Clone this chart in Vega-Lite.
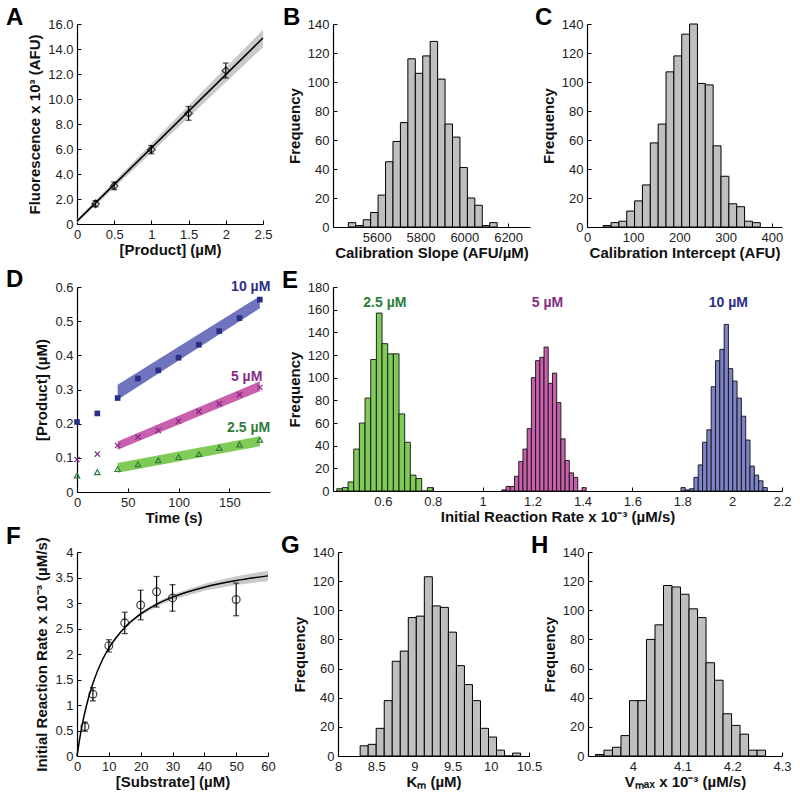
{
  "$schema": "https://vega.github.io/schema/vega-lite/v6.json",
  "padding": {"left": 6, "top": 6, "right": 5, "bottom": 5},
  "config": {
    "font": "Liberation Sans",
    "view": {"stroke": null},
    "axis": {"domainColor": "#000", "domainWidth": 1.2, "grid": false, "ticks": true, "tickSize": -4, "tickColor": "#000", "tickWidth": 1, "labelFontSize": 13, "labelColor": "#222", "labelPadding": 8, "labelFlush": false, "labelOverlap": false, "titleFontSize": 15, "titleFontWeight": "bold", "titleColor": "#111"},
    "axisY": {"titlePadding": 5},
    "axisX": {"titlePadding": 1},
    "title": {"fontSize": 24, "fontWeight": "bold", "anchor": "start", "frame": "group", "color": "#000", "offset": 0, "dy": 16}
  },
  "datasets": {
    "dpts": [
      {"s": "10", "t": 0, "y": 0.205}, {"s": "10", "t": 20, "y": 0.23}, {"s": "10", "t": 40, "y": 0.275}, {"s": "10", "t": 60, "y": 0.332}, {"s": "10", "t": 80, "y": 0.356}, {"s": "10", "t": 100, "y": 0.393}, {"s": "10", "t": 120, "y": 0.431}, {"s": "10", "t": 140, "y": 0.471}, {"s": "10", "t": 160, "y": 0.509}, {"s": "10", "t": 180, "y": 0.563},
      {"s": "5", "t": 0, "y": 0.095}, {"s": "5", "t": 20, "y": 0.111}, {"s": "5", "t": 40, "y": 0.136}, {"s": "5", "t": 60, "y": 0.161}, {"s": "5", "t": 80, "y": 0.18}, {"s": "5", "t": 100, "y": 0.207}, {"s": "5", "t": 120, "y": 0.236}, {"s": "5", "t": 140, "y": 0.258}, {"s": "5", "t": 160, "y": 0.285}, {"s": "5", "t": 180, "y": 0.306},
      {"s": "2.5", "t": 0, "y": 0.048}, {"s": "2.5", "t": 20, "y": 0.058}, {"s": "2.5", "t": 40, "y": 0.067}, {"s": "2.5", "t": 60, "y": 0.081}, {"s": "2.5", "t": 80, "y": 0.093}, {"s": "2.5", "t": 100, "y": 0.102}, {"s": "2.5", "t": 120, "y": 0.111}, {"s": "2.5", "t": 140, "y": 0.129}, {"s": "2.5", "t": 160, "y": 0.139}, {"s": "2.5", "t": 180, "y": 0.153}
    ]
  },
  "spacing": -1,
  "vconcat": [
    {
      "spacing": 8,
      "vconcat": [
        {
          "bounds": "flush",
          "spacing": 70,
          "hconcat": [
            {
              "width": 186, "height": 200,
              "title": {"text": "A", "dx": -71},
              "layer": [
                {
                  "data": {"values": [{"x": 0, "y": 0.23, "lo": 0.08, "hi": 0.38}, {"x": 2.5, "y": 14.88, "lo": 14.15, "hi": 15.55}]},
                  "mark": {"type": "area", "color": "#c4c4c4", "opacity": 0.9},
                  "encoding": {
                    "x": {"field": "x", "type": "quantitative", "scale": {"domain": [0, 2.5], "nice": false}, "axis": {"values": [0, 0.5, 1, 1.5, 2, 2.5], "tickCount": 30, "format": "~g", "labelOverlap": false, "title": "[Product] (µM)"}},
                    "y": {"field": "lo", "type": "quantitative", "scale": {"domain": [0, 16], "nice": false}, "axis": {"values": [0, 2, 4, 6, 8, 10, 12, 14, 16], "tickCount": 30, "labelOverlap": false, "labelExpr": "datum.value == 0 ? '0' : format(datum.value, '.1f')", "title": "Fluorescence  x 10³ (AFU)"}},
                    "y2": {"field": "hi"}
                  }
                },
                {
                  "data": {"values": [{"x": 0, "y": 0.23}, {"x": 2.5, "y": 14.88}]},
                  "mark": {"type": "line", "color": "#000", "strokeWidth": 1.5},
                  "encoding": {"x": {"field": "x", "type": "quantitative"}, "y": {"field": "y", "type": "quantitative"}}
                },
                {
                  "data": {"values": [{"x": 0.25, "y": 1.62, "lo": 1.37, "hi": 1.87}, {"x": 0.5, "y": 3.05, "lo": 2.75, "hi": 3.35}, {"x": 1, "y": 5.95, "lo": 5.62, "hi": 6.28}, {"x": 1.5, "y": 8.85, "lo": 8.3, "hi": 9.4}, {"x": 2, "y": 12.27, "lo": 11.68, "hi": 12.88}]},
                  "layer": [
                    {"mark": {"type": "rule", "color": "#000", "strokeWidth": 1.2}, "encoding": {"x": {"field": "x", "type": "quantitative"}, "y": {"field": "lo", "type": "quantitative"}, "y2": {"field": "hi"}}},
                    {"mark": {"type": "tick", "orient": "horizontal", "size": 6, "thickness": 1.2, "color": "#000"}, "encoding": {"x": {"field": "x", "type": "quantitative"}, "y": {"field": "lo", "type": "quantitative"}}},
                    {"mark": {"type": "tick", "orient": "horizontal", "size": 6, "thickness": 1.2, "color": "#000"}, "encoding": {"x": {"field": "x", "type": "quantitative"}, "y": {"field": "hi", "type": "quantitative"}}},
                    {"mark": {"type": "point", "shape": "diamond", "filled": false, "size": 55, "color": "#000", "strokeWidth": 1.3}, "encoding": {"x": {"field": "x", "type": "quantitative"}, "y": {"field": "y", "type": "quantitative"}}}
                  ]
                }
              ]
            },
            {
              "bounds": "flush",
              "spacing": 57,
              "hconcat": [
                {
                  "width": 197, "height": 203,
                  "title": {"text": "B", "dx": -50},
                  "data": {"values": [
                    {"b0": 5470, "b1": 5504, "n": 3}, {"b0": 5504, "b1": 5538, "n": 1}, {"b0": 5538, "b1": 5572, "n": 5}, {"b0": 5572, "b1": 5606, "n": 10}, {"b0": 5606, "b1": 5640, "n": 22},
                    {"b0": 5640, "b1": 5674, "n": 45}, {"b0": 5674, "b1": 5708, "n": 59}, {"b0": 5708, "b1": 5742, "n": 72}, {"b0": 5742, "b1": 5776, "n": 116}, {"b0": 5776, "b1": 5810, "n": 106},
                    {"b0": 5810, "b1": 5844, "n": 118}, {"b0": 5844, "b1": 5878, "n": 128}, {"b0": 5878, "b1": 5912, "n": 102}, {"b0": 5912, "b1": 5946, "n": 71}, {"b0": 5946, "b1": 5980, "n": 62},
                    {"b0": 5980, "b1": 6014, "n": 41}, {"b0": 6014, "b1": 6048, "n": 20}, {"b0": 6048, "b1": 6082, "n": 15}, {"b0": 6082, "b1": 6116, "n": 1}, {"b0": 6116, "b1": 6150, "n": 3}
                  ]},
                  "mark": {"type": "rect", "fill": "#bfbfbf", "stroke": "#000", "strokeWidth": 1},
                  "encoding": {
                    "x": {"field": "b0", "type": "quantitative", "scale": {"domain": [5400, 6300], "nice": false, "zero": false}, "axis": {"values": [5600, 5800, 6000, 6200], "tickCount": 30, "format": "d", "labelOverlap": false, "title": "Calibration Slope (AFU/µM)"}},
                    "x2": {"field": "b1"},
                    "y": {"field": "n", "type": "quantitative", "scale": {"domain": [0, 140], "nice": false}, "axis": {"values": [0, 20, 40, 60, 80, 100, 120, 140], "tickCount": 30, "labelOverlap": false, "title": "Frequency"}},
                    "y2": {"datum": 0}
                  }
                },
                {
                  "width": 195, "height": 203,
                  "title": {"text": "C", "dx": -52},
                  "data": {"values": [
                    {"b0": 35, "b1": 52, "n": 1}, {"b0": 52, "b1": 69, "n": 3}, {"b0": 69, "b1": 86, "n": 4}, {"b0": 86, "b1": 103, "n": 11}, {"b0": 103, "b1": 120, "n": 18},
                    {"b0": 120, "b1": 137, "n": 29}, {"b0": 137, "b1": 154, "n": 58}, {"b0": 154, "b1": 171, "n": 71}, {"b0": 171, "b1": 188, "n": 107}, {"b0": 188, "b1": 205, "n": 118},
                    {"b0": 205, "b1": 222, "n": 133}, {"b0": 222, "b1": 239, "n": 140}, {"b0": 239, "b1": 256, "n": 99}, {"b0": 256, "b1": 273, "n": 98}, {"b0": 273, "b1": 290, "n": 56},
                    {"b0": 290, "b1": 307, "n": 35}, {"b0": 307, "b1": 324, "n": 16}, {"b0": 324, "b1": 341, "n": 14}, {"b0": 341, "b1": 358, "n": 4}, {"b0": 358, "b1": 375, "n": 3}
                  ]},
                  "mark": {"type": "rect", "fill": "#bfbfbf", "stroke": "#000", "strokeWidth": 1},
                  "encoding": {
                    "x": {"field": "b0", "type": "quantitative", "scale": {"domain": [0, 422], "nice": false}, "axis": {"values": [0, 100, 200, 300, 400], "tickCount": 30, "labelOverlap": false, "title": "Calibration Intercept (AFU)"}},
                    "x2": {"field": "b1"},
                    "y": {"field": "n", "type": "quantitative", "scale": {"domain": [0, 140], "nice": false}, "axis": {"values": [0, 20, 40, 60, 80, 100, 120, 140], "tickCount": 30, "labelOverlap": false, "title": "Frequency"}},
                    "y2": {"datum": 0}
                  }
                }
              ]
            }
          ]
        },
        {
          "bounds": "flush",
          "spacing": 63,
          "hconcat": [
            {
              "width": 193, "height": 205,
              "title": {"text": "D", "dx": -71},
              "resolve": {"scale": {"color": "independent"}},
              "layer": [
                {
                  "data": {"values": [
                    {"s": "10", "t": 40, "lo": 0.27, "hi": 0.314}, {"s": "10", "t": 180, "lo": 0.538, "hi": 0.573},
                    {"s": "5", "t": 40, "lo": 0.124, "hi": 0.148}, {"s": "5", "t": 180, "lo": 0.295, "hi": 0.324},
                    {"s": "2.5", "t": 40, "lo": 0.056, "hi": 0.085}, {"s": "2.5", "t": 180, "lo": 0.134, "hi": 0.163}
                  ]},
                  "mark": {"type": "area", "opacity": 1},
                  "encoding": {
                    "x": {"field": "t", "type": "quantitative", "scale": {"domain": [0, 190], "nice": false}, "axis": {"values": [0, 50, 100, 150], "tickCount": 30, "labelOverlap": false, "title": "Time (s)"}},
                    "y": {"field": "lo", "type": "quantitative", "scale": {"domain": [0, 0.6], "nice": false}, "axis": {"values": [0, 0.1, 0.2, 0.3, 0.4, 0.5, 0.6], "tickCount": 30, "format": "~g", "labelOverlap": false, "title": "[Product] (µM)"}},
                    "y2": {"field": "hi"},
                    "color": {"field": "s", "type": "nominal", "scale": {"domain": ["2.5", "5", "10"], "range": ["#80cb58", "#c960ad", "#7074bf"]}, "legend": null}
                  }
                },
                {
                  "data": {"name": "dpts"},
                  "transform": [{"filter": "datum.s == '10'"}],
                  "mark": {"type": "point", "shape": "square", "filled": true, "size": 32, "color": "#2b2f84", "opacity": 1},
                  "encoding": {"x": {"field": "t", "type": "quantitative"}, "y": {"field": "y", "type": "quantitative"}}
                },
                {
                  "data": {"name": "dpts"},
                  "transform": [{"filter": "datum.s == '5'"}],
                  "mark": {"type": "point", "shape": "M-1,-1L1,1M-1,1L1,-1", "filled": false, "size": 28, "color": "#7d2b7f", "strokeWidth": 1.2, "opacity": 1},
                  "encoding": {"x": {"field": "t", "type": "quantitative"}, "y": {"field": "y", "type": "quantitative"}}
                },
                {
                  "data": {"name": "dpts"},
                  "transform": [{"filter": "datum.s == '2.5'"}],
                  "mark": {"type": "point", "shape": "triangle-up", "filled": false, "size": 30, "color": "#2e7d3a", "strokeWidth": 1.2, "opacity": 1},
                  "encoding": {"x": {"field": "t", "type": "quantitative"}, "y": {"field": "y", "type": "quantitative"}}
                },
                {
                  "data": {"values": [{"s": "10", "t": 171, "y": 0.6, "label": "10 µM"}, {"s": "5", "t": 167, "y": 0.336, "label": "5 µM"}, {"s": "2.5", "t": 169, "y": 0.187, "label": "2.5 µM"}]},
                  "mark": {"type": "text", "fontSize": 14, "fontWeight": "bold", "baseline": "middle", "align": "center"},
                  "encoding": {
                    "x": {"field": "t", "type": "quantitative"},
                    "y": {"field": "y", "type": "quantitative"},
                    "text": {"field": "label"},
                    "color": {"field": "s", "type": "nominal", "scale": {"domain": ["2.5", "5", "10"], "range": ["#2e7d3a", "#862c83", "#2b2f84"]}, "legend": null}
                  }
                }
              ]
            },
            {
              "width": 449, "height": 204,
              "title": {"text": "E", "dx": -51},
              "resolve": {"scale": {"color": "independent"}},
              "layer": [
                {
                  "data": {"values": [
                    {"s": "2.5", "b0": 0.415, "b1": 0.4377, "n": 2}, {"s": "2.5", "b0": 0.4377, "b1": 0.4604, "n": 3}, {"s": "2.5", "b0": 0.4604, "b1": 0.4831, "n": 8}, {"s": "2.5", "b0": 0.4831, "b1": 0.5058, "n": 37}, {"s": "2.5", "b0": 0.5058, "b1": 0.5285, "n": 60}, {"s": "2.5", "b0": 0.5285, "b1": 0.5512, "n": 82}, {"s": "2.5", "b0": 0.5512, "b1": 0.5739, "n": 116}, {"s": "2.5", "b0": 0.5739, "b1": 0.5966, "n": 157}, {"s": "2.5", "b0": 0.5966, "b1": 0.6193, "n": 130}, {"s": "2.5", "b0": 0.6193, "b1": 0.642, "n": 121}, {"s": "2.5", "b0": 0.642, "b1": 0.6647, "n": 121}, {"s": "2.5", "b0": 0.6647, "b1": 0.6874, "n": 68}, {"s": "2.5", "b0": 0.6874, "b1": 0.7101, "n": 43}, {"s": "2.5", "b0": 0.7101, "b1": 0.7328, "n": 14}, {"s": "2.5", "b0": 0.7328, "b1": 0.7555, "n": 11}, {"s": "2.5", "b0": 0.7555, "b1": 0.7782, "n": 0}, {"s": "2.5", "b0": 0.7782, "b1": 0.8009, "n": 3},
                    {"s": "5", "b0": 1.077, "b1": 1.0939, "n": 1}, {"s": "5", "b0": 1.0939, "b1": 1.1108, "n": 4}, {"s": "5", "b0": 1.1108, "b1": 1.1277, "n": 4}, {"s": "5", "b0": 1.1277, "b1": 1.1446, "n": 13}, {"s": "5", "b0": 1.1446, "b1": 1.1615, "n": 26}, {"s": "5", "b0": 1.1615, "b1": 1.1784, "n": 37}, {"s": "5", "b0": 1.1784, "b1": 1.1953, "n": 55}, {"s": "5", "b0": 1.1953, "b1": 1.2122, "n": 100}, {"s": "5", "b0": 1.2122, "b1": 1.2291, "n": 115}, {"s": "5", "b0": 1.2291, "b1": 1.246, "n": 118}, {"s": "5", "b0": 1.246, "b1": 1.2629, "n": 127}, {"s": "5", "b0": 1.2629, "b1": 1.2798, "n": 95}, {"s": "5", "b0": 1.2798, "b1": 1.2967, "n": 104}, {"s": "5", "b0": 1.2967, "b1": 1.3136, "n": 78}, {"s": "5", "b0": 1.3136, "b1": 1.3305, "n": 46}, {"s": "5", "b0": 1.3305, "b1": 1.3474, "n": 27}, {"s": "5", "b0": 1.3474, "b1": 1.3643, "n": 16}, {"s": "5", "b0": 1.3643, "b1": 1.3812, "n": 12}, {"s": "5", "b0": 1.3812, "b1": 1.3981, "n": 0}, {"s": "5", "b0": 1.3981, "b1": 1.415, "n": 3},
                    {"s": "10", "b0": 1.795, "b1": 1.8123, "n": 3}, {"s": "10", "b0": 1.8123, "b1": 1.8296, "n": 1}, {"s": "10", "b0": 1.8296, "b1": 1.8469, "n": 2}, {"s": "10", "b0": 1.8469, "b1": 1.8642, "n": 12}, {"s": "10", "b0": 1.8642, "b1": 1.8815, "n": 23}, {"s": "10", "b0": 1.8815, "b1": 1.8988, "n": 43}, {"s": "10", "b0": 1.8988, "b1": 1.9161, "n": 54}, {"s": "10", "b0": 1.9161, "b1": 1.9334, "n": 92}, {"s": "10", "b0": 1.9334, "b1": 1.9507, "n": 115}, {"s": "10", "b0": 1.9507, "b1": 1.968, "n": 125}, {"s": "10", "b0": 1.968, "b1": 1.9853, "n": 147}, {"s": "10", "b0": 1.9853, "b1": 2.0026, "n": 108}, {"s": "10", "b0": 2.0026, "b1": 2.0199, "n": 97}, {"s": "10", "b0": 2.0199, "b1": 2.0372, "n": 82}, {"s": "10", "b0": 2.0372, "b1": 2.0545, "n": 66}, {"s": "10", "b0": 2.0545, "b1": 2.0718, "n": 45}, {"s": "10", "b0": 2.0718, "b1": 2.0891, "n": 22}, {"s": "10", "b0": 2.0891, "b1": 2.1064, "n": 14}, {"s": "10", "b0": 2.1064, "b1": 2.1237, "n": 9}, {"s": "10", "b0": 2.1237, "b1": 2.141, "n": 3}
                  ]},
                  "mark": {"type": "rect", "stroke": "#111", "strokeWidth": 0.9, "opacity": 1},
                  "encoding": {
                    "x": {"field": "b0", "type": "quantitative", "scale": {"domain": [0.4, 2.2], "nice": false, "zero": false}, "axis": {"values": [0.6, 0.8, 1, 1.2, 1.4, 1.6, 1.8, 2, 2.2], "tickCount": 30, "format": "~g", "labelOverlap": false, "title": "Initial Reaction Rate x 10⁻³ (µM/s)"}},
                    "x2": {"field": "b1"},
                    "y": {"field": "n", "type": "quantitative", "scale": {"domain": [0, 180], "nice": false}, "axis": {"values": [0, 20, 40, 60, 80, 100, 120, 140, 160, 180], "tickCount": 30, "labelOverlap": false, "title": "Frequency"}},
                    "y2": {"datum": 0},
                    "color": {"field": "s", "type": "nominal", "scale": {"domain": ["2.5", "5", "10"], "range": ["#80cb58", "#c960ad", "#7f84c8"]}, "legend": null}
                  }
                },
                {
                  "data": {"values": [{"s": "2.5", "x": 0.608, "y": 166, "label": "2.5 µM"}, {"s": "5", "x": 1.26, "y": 166, "label": "5 µM"}, {"s": "10", "x": 1.985, "y": 166, "label": "10 µM"}]},
                  "mark": {"type": "text", "fontSize": 14, "fontWeight": "bold", "baseline": "middle", "align": "center"},
                  "encoding": {
                    "x": {"field": "x", "type": "quantitative"},
                    "y": {"field": "y", "type": "quantitative"},
                    "text": {"field": "label"},
                    "color": {"field": "s", "type": "nominal", "scale": {"domain": ["2.5", "5", "10"], "range": ["#2e7d3a", "#862c83", "#2b2f84"]}, "legend": null}
                  }
                }
              ]
            }
          ]
        }
      ]
    },
    {
      "bounds": "flush",
      "spacing": 70,
      "hconcat": [
        {
          "width": 191, "height": 204,
          "title": {"text": "F", "dx": -71},
          "layer": [
            {
              "data": {"values": [
                {"S": 0, "v": 0, "lo": 0, "hi": 0}, {"S": 1, "v": 0.396, "lo": 0.394, "hi": 0.398}, {"S": 2, "v": 0.722, "lo": 0.719, "hi": 0.725}, {"S": 3, "v": 0.995, "lo": 0.99, "hi": 1.0}, {"S": 5, "v": 1.427, "lo": 1.419, "hi": 1.435}, {"S": 8, "v": 1.887, "lo": 1.873, "hi": 1.901}, {"S": 10, "v": 2.114, "lo": 2.097, "hi": 2.131}, {"S": 15, "v": 2.519, "lo": 2.494, "hi": 2.544}, {"S": 20, "v": 2.785, "lo": 2.751, "hi": 2.819}, {"S": 25, "v": 2.974, "lo": 2.932, "hi": 3.016}, {"S": 30, "v": 3.115, "lo": 3.064, "hi": 3.166}, {"S": 40, "v": 3.31, "lo": 3.242, "hi": 3.378}, {"S": 50, "v": 3.44, "lo": 3.355, "hi": 3.525}, {"S": 60, "v": 3.532, "lo": 3.43, "hi": 3.634}
              ]},
              "layer": [
                {
                  "mark": {"type": "area", "color": "#c4c4c4", "opacity": 0.9},
                  "encoding": {
                    "x": {"field": "S", "type": "quantitative", "scale": {"domain": [0, 60], "nice": false}, "axis": {"values": [0, 10, 20, 30, 40, 50, 60], "tickCount": 30, "labelOverlap": false, "title": "[Substrate] (µM)"}},
                    "y": {"field": "lo", "type": "quantitative", "scale": {"domain": [0, 4], "nice": false}, "axis": {"values": [0, 0.5, 1, 1.5, 2, 2.5, 3, 3.5, 4], "tickCount": 30, "format": "~g", "labelOverlap": false, "title": "Initial Reaction Rate x 10⁻³ (µM/s)"}},
                    "y2": {"field": "hi"}
                  }
                },
                {
                  "mark": {"type": "line", "color": "#000", "strokeWidth": 1.5, "interpolate": "monotone"},
                  "encoding": {"x": {"field": "S", "type": "quantitative"}, "y": {"field": "v", "type": "quantitative"}}
                }
              ]
            },
            {
              "data": {"values": [{"S": 2.5, "v": 0.575, "lo": 0.485, "hi": 0.665}, {"S": 5, "v": 1.21, "lo": 1.08, "hi": 1.34}, {"S": 10, "v": 2.16, "lo": 2.04, "hi": 2.28}, {"S": 15, "v": 2.61, "lo": 2.4, "hi": 2.82}, {"S": 20, "v": 2.96, "lo": 2.67, "hi": 3.25}, {"S": 25, "v": 3.22, "lo": 2.92, "hi": 3.52}, {"S": 30, "v": 3.1, "lo": 2.84, "hi": 3.36}, {"S": 50, "v": 3.07, "lo": 2.75, "hi": 3.39}]},
              "layer": [
                {"mark": {"type": "rule", "color": "#000", "strokeWidth": 1.2}, "encoding": {"x": {"field": "S", "type": "quantitative"}, "y": {"field": "lo", "type": "quantitative"}, "y2": {"field": "hi"}}},
                {"mark": {"type": "tick", "orient": "horizontal", "size": 6, "thickness": 1.2, "color": "#000"}, "encoding": {"x": {"field": "S", "type": "quantitative"}, "y": {"field": "lo", "type": "quantitative"}}},
                {"mark": {"type": "tick", "orient": "horizontal", "size": 6, "thickness": 1.2, "color": "#000"}, "encoding": {"x": {"field": "S", "type": "quantitative"}, "y": {"field": "hi", "type": "quantitative"}}},
                {"mark": {"type": "point", "shape": "circle", "filled": false, "size": 60, "color": "#000", "strokeWidth": 1.3}, "encoding": {"x": {"field": "S", "type": "quantitative"}, "y": {"field": "v", "type": "quantitative"}}}
              ]
            }
          ]
        },
        {
          "bounds": "flush",
          "spacing": 59,
          "hconcat": [
            {
              "width": 191, "height": 204,
              "title": {"text": "G", "dx": -57},
              "data": {"values": [
                {"b0": 8.29, "b1": 8.395, "n": 7}, {"b0": 8.395, "b1": 8.5, "n": 8}, {"b0": 8.5, "b1": 8.605, "n": 19}, {"b0": 8.605, "b1": 8.71, "n": 38}, {"b0": 8.71, "b1": 8.815, "n": 65},
                {"b0": 8.815, "b1": 8.92, "n": 72}, {"b0": 8.92, "b1": 9.025, "n": 95}, {"b0": 9.025, "b1": 9.13, "n": 96}, {"b0": 9.13, "b1": 9.235, "n": 123}, {"b0": 9.235, "b1": 9.34, "n": 103},
                {"b0": 9.34, "b1": 9.445, "n": 102}, {"b0": 9.445, "b1": 9.55, "n": 85}, {"b0": 9.55, "b1": 9.655, "n": 62}, {"b0": 9.655, "b1": 9.76, "n": 49}, {"b0": 9.76, "b1": 9.865, "n": 38},
                {"b0": 9.865, "b1": 9.97, "n": 19}, {"b0": 9.97, "b1": 10.075, "n": 13}, {"b0": 10.075, "b1": 10.18, "n": 4}, {"b0": 10.18, "b1": 10.285, "n": 0}, {"b0": 10.285, "b1": 10.39, "n": 2}
              ]},
              "mark": {"type": "rect", "fill": "#bfbfbf", "stroke": "#000", "strokeWidth": 1},
              "encoding": {
                "x": {"field": "b0", "type": "quantitative", "scale": {"domain": [8, 10.5], "nice": false, "zero": false}, "axis": {"values": [8, 8.5, 9, 9.5, 10, 10.5], "tickCount": 30, "format": "~g", "labelOverlap": false, "title": "Kₘ (µM)"}},
                "x2": {"field": "b1"},
                "y": {"field": "n", "type": "quantitative", "scale": {"domain": [0, 140], "nice": false}, "axis": {"values": [0, 20, 40, 60, 80, 100, 120, 140], "tickCount": 30, "labelOverlap": false, "title": "Frequency"}},
                "y2": {"datum": 0}
              }
            },
            {
              "width": 194, "height": 204,
              "title": {"text": "H", "dx": -57},
              "data": {"values": [
                {"b0": 3.925, "b1": 3.9421, "n": 1}, {"b0": 3.9421, "b1": 3.9592, "n": 4}, {"b0": 3.9592, "b1": 3.9763, "n": 6}, {"b0": 3.9763, "b1": 3.9934, "n": 14}, {"b0": 3.9934, "b1": 4.0105, "n": 38},
                {"b0": 4.0105, "b1": 4.0276, "n": 38}, {"b0": 4.0276, "b1": 4.0447, "n": 80}, {"b0": 4.0447, "b1": 4.0618, "n": 90}, {"b0": 4.0618, "b1": 4.0789, "n": 117}, {"b0": 4.0789, "b1": 4.096, "n": 116},
                {"b0": 4.096, "b1": 4.1131, "n": 111}, {"b0": 4.1131, "b1": 4.1302, "n": 101}, {"b0": 4.1302, "b1": 4.1473, "n": 95}, {"b0": 4.1473, "b1": 4.1644, "n": 64}, {"b0": 4.1644, "b1": 4.1815, "n": 52},
                {"b0": 4.1815, "b1": 4.1986, "n": 29}, {"b0": 4.1986, "b1": 4.2157, "n": 21}, {"b0": 4.2157, "b1": 4.2328, "n": 15}, {"b0": 4.2328, "b1": 4.2499, "n": 4}, {"b0": 4.2499, "b1": 4.267, "n": 4}
              ]},
              "mark": {"type": "rect", "fill": "#bfbfbf", "stroke": "#000", "strokeWidth": 1},
              "encoding": {
                "x": {"field": "b0", "type": "quantitative", "scale": {"domain": [3.91, 4.3], "nice": false, "zero": false}, "axis": {"values": [4, 4.1, 4.2, 4.3], "tickCount": 30, "format": "~g", "labelOverlap": false, "title": "Vₘₐₓ x 10⁻³ (µM/s)"}},
                "x2": {"field": "b1"},
                "y": {"field": "n", "type": "quantitative", "scale": {"domain": [0, 140], "nice": false}, "axis": {"values": [0, 20, 40, 60, 80, 100, 120, 140], "tickCount": 30, "labelOverlap": false, "title": "Frequency"}},
                "y2": {"datum": 0}
              }
            }
          ]
        }
      ]
    }
  ]
}
